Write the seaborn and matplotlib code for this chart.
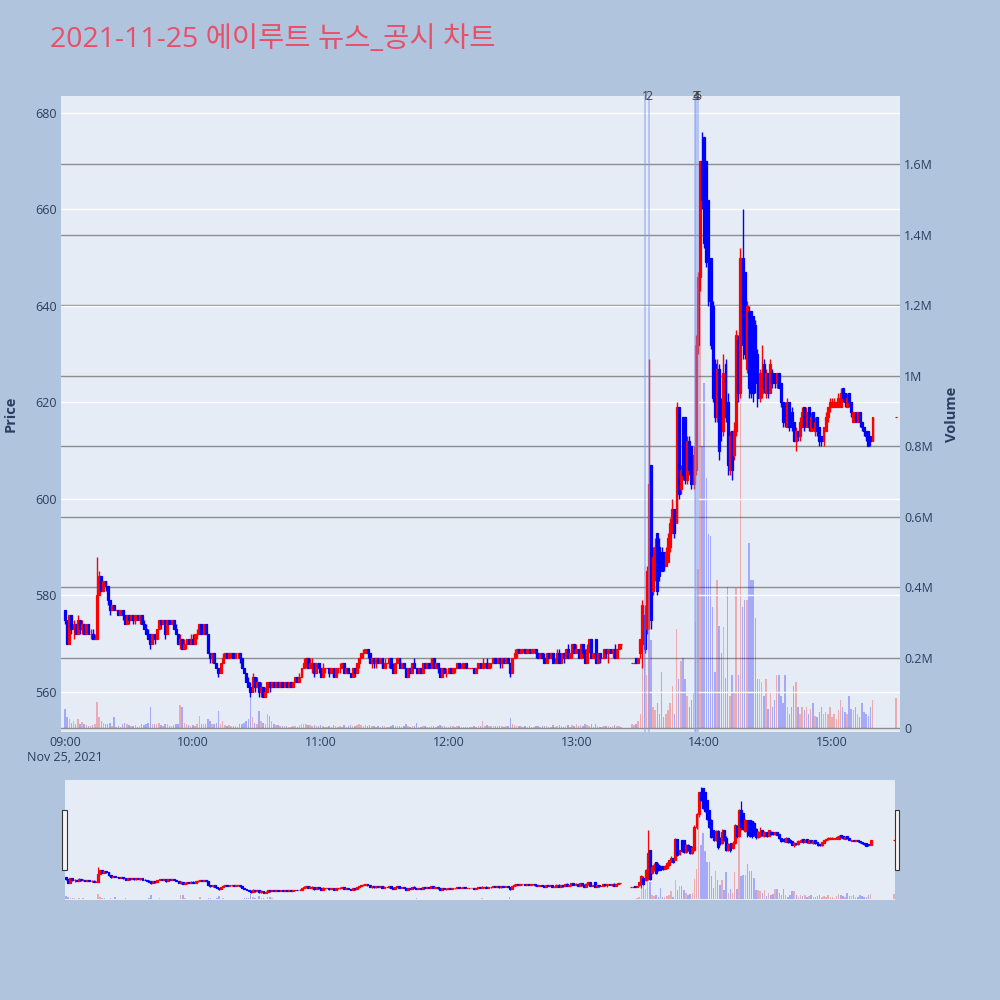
import numpy as np
import pandas as pd
import matplotlib
matplotlib.use("Agg")
import matplotlib.pyplot as plt
import matplotlib.transforms as mtransforms
from matplotlib.patches import Rectangle
import seaborn as sns

# ---------------- data ----------------
title = "2021-11-25 에이루트 뉴스_공시 차트"
time_labels = ["09:00\nNov 25, 2021", "10:00", "11:00", "12:00", "13:00", "14:00", "15:00"]
price_ticks = [560, 580, 600, 620, 640, 660, 680]
volume_ticks_k = [0, 200, 400, 600, 800, 1000, 1200, 1400, 1600]
volume_tick_labels = ["0", "0.2M", "0.4M", "0.6M", "0.8M", "1M", "1.2M", "1.4M", "1.6M"]
news_minutes = [272.2, 274.2, 295.5, 296.3, 297.1]
news_labels = ["1", "2", "3", "4", "5"]

# one value per minute from 09:00 (None = no trade)
open_ = [
    577,575,570,576,573,574,572,575,573,574, 572,574,572,572,571,571,580,584,581,583,
    582,579,577,578,577,577,576,577,576,574, 576,575,576,575,576,575,576,574,573,572,
    572,570,572,571,573,575,574,575,572,575, 574,575,573,572,570,571,569,570,571,570,
    571,570,572,572,574,572,574,572,568,567, 568,566,565,564,566,567,568,567,568,568,
    567,568,568,567,565,564,562,561,560,563, 561,562,560,561,559,560,562,561,562,561,
    562,561,562,561,562,561,562,561,562,563, 562,563,565,566,567,565,566,566,564,566,
    565,563,565,565,565,564,565,563,565,565, 565,566,564,565,564,563,565,564,566,567,
    568,568,569,568,566,567,566,567,566,567, 565,566,566,567,565,564,566,567,565,566,
    565,563,565,564,566,565,564,565,564,566, 565,566,565,567,565,566,565,563,565,564,
    564,565,564,565,565,566,565,565,566,565, 565,565,565,564,565,566,565,566,566,565,
    566,566,567,566,567,566,567,566,567,566, 564,567,568,569,568,569,569,568,569,568,
    569,569,568,567,568,567,566,568,567,568, 566,566,568,566,568,567,569,567,568,570,
    568,569,567,570,568,566,569,571,567,571, 566,568,567,567,569,568,569,568,569,567,
    569,570,None,None,None,None,566,566,567,566, 568,570,576,573,576,607,581,584,593,590,
    589,589,586,587,590,593,598,595,619,602, 617,617,604,612,611,603,606,632,646,670,
    675,670,662,650,640,628,617,627,620,614, 628,620,606,614,609,614,633,622,650,647,
    627,639,639,638,636,630,621,622,628,622, 626,622,626,626,624,626,624,620,619,615,
    620,618,616,612,614,613,615,619,615,619, 614,618,614,617,615,613,612,614,617,619,
    619,619,619,619,619,623,622,619,622,620, 616,618,616,618,616,615,614,614,613,612,
]
high = [
    577,575,576,576,575,574,576,575,575,574, 574,574,573,573,572,588,585,584,583,583,
    582,579,578,578,577,577,577,577,576,576, 576,576,576,576,576,576,576,575,574,573,
    572,572,572,573,575,575,575,575,575,575, 575,575,574,572,572,571,571,571,571,572,
    572,572,573,574,574,574,574,572,568,568, 568,566,565,566,568,568,568,568,568,568,
    568,568,568,567,565,564,563,562,564,563, 563,562,562,561,561,562,562,562,562,562,
    562,562,562,562,562,562,562,562,563,563, 564,565,567,567,567,567,567,566,566,566,
    565,566,565,565,565,565,565,565,565,566, 566,566,565,565,564,565,565,566,567,568,
    569,569,569,568,567,567,567,567,567,567, 567,566,567,567,566,566,567,567,566,566,
    565,565,565,566,567,565,565,565,566,566, 566,566,567,567,566,566,565,565,565,565,
    565,565,565,565,566,566,566,566,566,565, 565,565,565,565,566,566,567,566,567,566,
    566,567,567,567,567,567,567,567,567,566, 567,569,569,569,569,569,569,569,569,569,
    569,569,568,568,568,568,568,568,568,568, 567,569,569,568,568,569,570,568,570,570,
    570,569,570,570,569,570,571,571,568,571, 568,568,567,569,569,569,569,569,570,569,
    570,570,None,None,None,None,566,566,567,567, 571,579,578,586,629,607,590,592,593,592,
    590,589,590,593,596,600,598,620,619,607, 617,617,613,613,611,611,634,647,670,676,
    675,670,662,650,641,629,629,628,621,630, 629,622,614,614,616,635,634,652,660,647,
    641,640,639,638,637,631,627,632,629,627, 626,629,627,626,626,626,624,620,620,621,
    620,619,616,615,614,617,619,619,619,619, 618,618,617,617,615,613,615,618,619,621,
    621,621,620,622,623,623,622,622,622,620, 618,618,618,618,616,615,614,614,613,617,
]
low = [
    574,570,570,572,571,572,572,572,572,572, 572,572,571,571,571,571,580,581,581,581,
    578,576,577,577,577,576,576,575,574,574, 574,575,574,574,575,574,574,573,572,571,
    569,570,570,571,573,573,574,571,572,574, 574,573,572,570,569,569,569,569,570,570,
    570,570,571,572,572,572,572,568,566,566, 566,565,563,564,566,567,567,567,567,567,
    567,567,566,565,564,562,561,559,560,560, 561,559,559,559,559,560,560,561,561,561,
    561,561,561,561,561,561,561,561,562,562, 562,563,565,565,565,565,564,563,564,564,
    563,563,564,565,563,564,563,563,564,564, 565,564,564,564,563,563,563,564,565,567,
    567,568,567,566,565,565,565,566,566,565, 565,566,565,565,564,564,566,565,565,565,
    563,563,564,564,565,564,564,564,564,565, 565,565,565,565,565,564,563,563,564,563,
    564,564,564,564,565,565,565,565,565,565, 565,565,564,564,565,565,565,565,565,565,
    565,566,566,566,565,565,566,566,566,563, 564,567,567,568,568,568,568,568,568,568,
    568,567,567,567,567,566,566,567,567,566, 566,566,566,566,566,567,567,567,567,568,
    568,567,567,567,566,566,568,567,567,566, 566,566,567,567,567,566,568,567,567,567,
    569,569,None,None,None,None,566,566,566,566, 567,565,568,572,573,573,580,583,580,583,
    585,585,586,587,589,593,592,595,600,601, 604,603,603,605,602,602,605,630,643,660,
    652,648,640,631,620,616,616,608,612,613, 616,605,605,604,608,613,620,621,629,629,
    626,621,621,620,622,619,620,621,622,621, 621,622,623,623,623,623,619,615,615,615,
    614,614,612,610,612,612,615,614,615,614, 614,614,613,613,611,611,611,614,616,618,
    619,619,619,619,619,620,619,619,619,617, 616,616,616,615,614,613,612,611,611,612,
]
close = [
    575,570,576,573,574,572,575,573,574,572, 574,572,572,571,571,580,584,581,583,582,
    579,577,578,577,577,576,577,576,574,576, 575,576,575,576,575,576,574,573,572,571,
    570,572,571,573,575,574,575,572,575,574, 575,573,572,570,571,569,570,571,570,571,
    570,572,572,574,572,574,572,568,567,568, 566,565,564,566,567,568,567,568,568,567,
    568,568,567,565,564,562,561,560,563,561, 562,560,561,559,560,562,561,562,561,562,
    561,562,561,562,561,562,561,562,563,562, 563,565,566,567,565,566,566,564,566,565,
    563,565,565,565,564,565,563,565,565,565, 566,564,565,564,563,565,564,566,567,568,
    568,569,568,566,567,566,567,566,567,565, 566,566,567,565,564,566,567,565,566,565,
    563,565,564,566,565,564,565,564,566,565, 566,565,567,565,566,565,563,565,564,564,
    565,564,565,565,566,565,565,566,565,565, 565,565,564,565,566,565,566,566,565,566,
    566,567,566,567,566,567,566,567,566,564, 567,568,569,568,569,569,568,569,568,569,
    569,568,567,568,567,566,568,567,568,566, 566,568,566,568,567,569,567,568,570,568,
    569,567,570,568,566,569,571,567,568,566, 568,567,567,569,568,569,568,569,567,569,
    570,570,None,None,None,None,566,566,566,567, 571,578,569,585,603,575,588,590,581,584,
    585,586,589,592,595,598,593,619,601,606, 605,604,612,606,603,609,632,646,670,662,
    653,649,641,632,621,617,627,610,614,626, 617,607,613,606,614,634,622,650,632,630,
    640,623,622,622,624,621,626,626,623,626, 622,628,624,624,626,623,620,616,616,620,
    615,615,612,614,613,616,618,615,618,615, 617,615,616,614,612,612,615,617,619,620,
    620,620,620,621,622,621,620,621,620,618, 618,616,618,616,615,614,613,611,612,617,
]
volume_k = [
    55,30,25,15,20,12,25,10,18,10, 8,6,5,8,12,75,30,20,15,10,
    12,15,6,30,3,5,3,10,15,12, 8,6,5,8,4,6,10,8,12,15,
    60,10,12,10,15,8,6,12,10,5, 6,8,10,12,65,60,15,10,8,6,
    8,6,10,34,12,10,10,25,20,12, 10,15,48,10,20,8,6,8,5,6,
    5,4,10,12,15,20,25,85,30,15, 12,48,20,15,10,40,35,20,10,8,
    8,6,5,6,5,4,4,5,6,4, 8,10,12,10,8,8,6,8,6,5,
    8,6,3,3,6,4,8,5,3,6, 4,8,4,5,8,6,5,8,10,8,
    6,8,6,8,5,6,4,5,4,6, 5,3,4,6,8,6,5,6,4,5,
    10,6,4,5,6,15,4,4,6,5, 4,4,5,6,3,5,8,5,6,4,
    4,6,5,3,6,5,3,4,4,3, 2,3,5,3,5,6,20,5,8,6,
    5,6,5,6,5,6,4,6,5,28, 10,8,6,5,5,4,6,4,5,4,
    3,6,5,4,5,6,5,4,3,8, 4,6,8,5,4,6,8,4,8,6,
    10,6,8,5,10,8,6,10,4,10, 5,4,3,6,5,6,4,5,8,6,
    5,4,None,None,None,None,10,8,12,20, 40,230,270,150,280,250,60,50,70,40,
    160,30,40,50,70,120,40,280,140,190, 200,140,90,60,80,100,300,450,1300,800,
    980,710,550,545,343,160,420,290,213,287, 142,400,90,150,100,397,150,1270,343,363,
    363,525,420,420,312,140,140,130,90,140, 55,100,60,80,150,150,90,70,150,60,
    40,60,120,130,60,40,60,50,60,40, 55,70,35,30,45,60,40,45,40,60,
    30,40,25,50,80,60,45,40,90,55, 50,60,40,30,70,45,40,35,60,80,
]
# closing auction at 15:30
auction_minute = 390
auction_price = 617
auction_volume_k = 85

# ---------------- style ----------------
PAGE_BG = "#b0c4de"
PLOT_BG = "#e5ecf6"
TXT = "#2a3f5f"
UP = "#ff0000"
DOWN = "#0000ff"

sns.set_theme(style="white")
plt.rcParams["font.family"] = ["Open Sans", "Noto Sans CJK KR", "DejaVu Sans"]

n = len(open_)
minute = np.concatenate([np.arange(n), [auction_minute]]).astype(float)
O = np.array(open_ + [auction_price], dtype=float)
H = np.array(high + [auction_price], dtype=float)
L = np.array(low + [auction_price], dtype=float)
C = np.array(close + [auction_price], dtype=float)
V = np.array(volume_k + [auction_volume_k], dtype=float)
ok = ~np.isnan(O)
t, o, h, l, c, v = minute[ok], O[ok], H[ok], L[ok], C[ok], V[ok]
is_up = c >= o
cols = np.where(is_up, UP, DOWN)
vol_df = pd.DataFrame({"minute": t, "volume": v, "dir": np.where(is_up, "up", "down")})


def draw(axp, axv, body_w, body_lw, wick_lw):
    sns.barplot(data=vol_df, x="minute", y="volume", hue="dir", hue_order=["up", "down"],
                palette={"up": UP, "down": DOWN}, native_scale=True, dodge=False,
                width=0.7, alpha=0.28, saturation=1, errorbar=None, legend=False,
                linewidth=0, ax=axv)
    axp.vlines(t, l, h, colors=cols, linewidth=wick_lw, zorder=3)
    axp.bar(t, np.abs(c - o), bottom=np.minimum(o, c), width=body_w, color=cols,
            edgecolor=cols, linewidth=body_lw, zorder=4)


fig = plt.figure(figsize=(10, 10), dpi=100, facecolor=PAGE_BG)

# ---------------- main chart ----------------
ax = fig.add_axes([0.061, 0.268, 0.839, 0.636])
axv = ax.twinx()
ax.set_zorder(axv.get_zorder() + 1)
ax.patch.set_visible(False)
axv.patch.set_visible(True)
axv.set_facecolor(PLOT_BG)

draw(ax, axv, 0.9, 0.9, 1.0)

ax.set_xlim(-1.9, 391.9)
ax.set_ylim(551.7, 683.5)
axv.set_ylim(-11.3, 1793)

ax.set_yticks(price_ticks)
ax.set_xticks(np.arange(0, 361, 60))
ax.set_xticklabels(time_labels)
axv.set_yticks(volume_ticks_k)
axv.set_yticklabels(volume_tick_labels)

ax.yaxis.grid(True, color="white", linewidth=1.0)
ax.xaxis.grid(False)
axv.yaxis.grid(True, color="#8e8e8e", linewidth=1.0)
axv.xaxis.grid(False)
axv.set_axisbelow(True)

for a in (ax, axv):
    for s in a.spines.values():
        s.set_visible(False)
    a.tick_params(axis="both", length=0, labelsize=9, labelcolor=TXT, pad=3)
axv.set_xlabel("")
ax.set_xlabel("")
ax.set_ylabel("Price", fontsize=10.5, fontweight="bold", color=TXT)
ax.yaxis.set_label_coords(-0.052, 0.5)
axv.set_ylabel("Volume", fontsize=10.5, fontweight="bold", color=TXT)
axv.yaxis.set_label_coords(1.054, 0.5)

trans = mtransforms.blended_transform_factory(ax.transData, ax.transAxes)
for m, lab in zip(news_minutes, news_labels):
    ax.axvline(m, color="#7f9af0", alpha=0.55, linewidth=1.2, zorder=6)
    ax.text(m, 1.0, lab, transform=trans, ha="center", va="center", fontsize=9,
            color="#444444", zorder=7)

fig.text(0.05, 0.96, title, fontsize=20.5, color="#e8506a", ha="left", va="center")

# ---------------- range-slider style navigator ----------------
nav = fig.add_axes([0.065, 0.1, 0.830, 0.12])
navv = nav.twinx()
nav.set_zorder(navv.get_zorder() + 1)
nav.patch.set_visible(False)
navv.patch.set_visible(True)
navv.set_facecolor(PLOT_BG)
draw(nav, navv, 0.9, 0.9, 0.9)
nav.set_xlim(-0.5, 390.5)
nav.set_ylim(551.5, 683.5)
navv.set_ylim(-10, 1760)
for a in (nav, navv):
    a.set_xticks([])
    a.set_yticks([])
    a.set_xlabel("")
    a.set_ylabel("")
    a.grid(False)
    for s in a.spines.values():
        s.set_visible(False)

for hx in (0.0620, 0.8947):
    fig.patches.append(Rectangle((hx, 0.13), 0.0045, 0.06, transform=fig.transFigure,
                                 facecolor="#f4f4f4", edgecolor="#333333", linewidth=0.8))

fig.savefig("out.png", dpi=100, facecolor=PAGE_BG)
